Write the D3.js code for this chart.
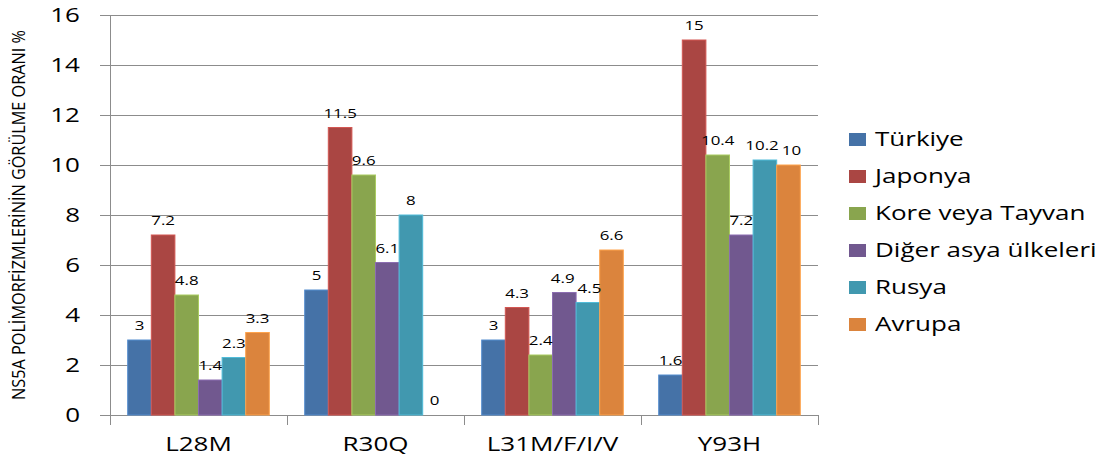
<!DOCTYPE html>
<html><head><meta charset="utf-8">
<script src="https://cdn.jsdelivr.net/npm/d3@7"></script>
<style>body{margin:0;background:#fff}svg{display:block}</style>
</head><body><svg id="c" width="1108" height="462"></svg>
<script>
const categories = ["L28M", "R30Q", "L31M/F/I/V", "Y93H"];
const seriesNames = ["Türkiye", "Japonya", "Kore veya Tayvan", "Diğer asya ülkeleri", "Rusya", "Avrupa"];
const turkiye = [3, 5, 3, 1.6];
const japonya = [7.2, 11.5, 4.3, 15];
const kore = [4.8, 9.6, 2.4, 10.4];
const diger = [1.4, 6.1, 4.9, 7.2];
const rusya = [2.3, 8, 4.5, 10.2];
const avrupa = [3.3, 0, 6.6, 10];
const yTicks = [0, 2, 4, 6, 8, 10, 12, 14, 16];
const colors = ["#4572A7", "#AA4643", "#89A54E", "#71588F", "#4198AF", "#DB843D"];
const series = [turkiye, japonya, kore, diger, rusya, avrupa];

const SX = 1.3;
function stretch(sel) {
  sel.each(function() {
    const t = d3.select(this);
    const x = +t.attr("x") || 0, y = +t.attr("y") || 0;
    t.attr("x", 0).attr("y", 0).attr("transform", `translate(${x},${y}) scale(${SX},1)`)
      .attr("data-x", x).attr("data-y", y);
  });
}

const svg = d3.select("#c");
const font = "'Open Sans', sans-serif";
const x0 = d3.scaleBand().domain(categories).range([110, 818]).padding(0);
const x1 = d3.scaleBand().domain(d3.range(series.length)).range([0, x0.bandwidth()]).paddingInner(0).paddingOuter(0.75);
const y = d3.scaleLinear().domain([0, 16]).range([415, 15]);

// gridlines
svg.append("g").selectAll("line").data(yTicks.filter(d => d > 0)).join("line")
  .attr("x1", 100).attr("x2", 818).attr("y1", d => y(d)).attr("y2", d => y(d))
  .attr("stroke", "#8c8c8c").attr("stroke-width", 1).attr("shape-rendering", "crispEdges");

// y axis
const yAxis = svg.append("g").attr("transform", "translate(110,0)")
  .call(d3.axisLeft(y).tickValues(yTicks).tickSize(10).tickPadding(20).tickFormat(d3.format("d")));
yAxis.select(".domain").attr("stroke", "#8c8c8c");
yAxis.selectAll("line").attr("stroke", "#8c8c8c");
yAxis.selectAll("text").attr("font-family", font).attr("font-size", 20).attr("fill", "#000").call(stretch);

// x axis
const xAxis = svg.append("g").attr("transform", "translate(0,415)")
  .call(d3.axisBottom(x0).tickSize(0).tickPadding(22));
xAxis.select(".domain").attr("stroke", "#8c8c8c");
xAxis.selectAll("text").attr("font-family", font).attr("font-size", 20).attr("fill", "#000").call(stretch);
svg.append("g").selectAll("line").data(d3.range(categories.length + 1)).join("line")
  .attr("x1", i => 110 + i * x0.bandwidth()).attr("x2", i => 110 + i * x0.bandwidth())
  .attr("y1", 415).attr("y2", 425).attr("stroke", "#8c8c8c").attr("shape-rendering", "crispEdges");

// bars
const groups = svg.append("g").selectAll("g").data(categories).join("g")
  .attr("transform", c => `translate(${x0(c)},0)`);
groups.selectAll("rect").data((c, ci) => series.map((s, si) => ({si, v: s[ci]}))).join("rect")
  .attr("x", d => x1(d.si)).attr("width", x1.bandwidth())
  .attr("y", d => y(d.v)).attr("height", d => y(0) - y(d.v))
  .attr("fill", d => colors[d.si])
  .attr("stroke", d => d3.color(colors[d.si]).brighter(0.6)).attr("stroke-width", 1);
groups.each(function() {
  const g = d3.select(this);
  const labels = g.selectAll("text.lbl").data((c => series.map((s, si) => ({si, v: s[categories.indexOf(c)]})))(g.datum()))
    .join("text").attr("class", "lbl")
    .attr("x", d => x1(d.si) + x1.bandwidth() / 2).attr("y", d => y(d.v) - 10)
    .attr("text-anchor", "middle").attr("font-family", font).attr("font-size", 13).attr("fill", "#000")
    .text(d => d.v).call(stretch);
  // simple collision avoidance between neighbouring labels
  const nodes = labels.nodes();
  const info = nodes.map(n => {
    const w = n.getBBox().width * SX;
    return {n, cx: +n.getAttribute("data-x"), cy: +n.getAttribute("data-y"), w};
  });
  for (let i = 1; i < info.length; i++) {
    const a = info[i - 1], b = info[i];
    if (Math.abs(a.cy - b.cy) < 14) {
      const overlap = (a.cx + a.w / 2 + 3) - (b.cx - b.w / 2);
      if (overlap > 0) { a.cx -= overlap / 2; b.cx += overlap / 2; }
    }
  }
  info.forEach(o => d3.select(o.n).attr("transform", `translate(${o.cx},${o.cy}) scale(${SX},1)`));
});

// y title
svg.append("text").attr("transform", `translate(25,215) scale(${SX},1) rotate(-90)`)
  .attr("text-anchor", "middle").attr("font-family", font)
  .attr("font-size", 14).attr("textLength", 370).attr("lengthAdjust", "spacingAndGlyphs")
  .attr("fill", "#000").text("NS5A POLİMORFİZMLERİNİN GÖRÜLME ORANI %");

// legend
const lg = svg.append("g").selectAll("g").data(seriesNames).join("g")
  .attr("transform", (d, i) => `translate(849,${139 + i * 37})`);
lg.append("rect").attr("x", 0).attr("y", -6).attr("width", 17).attr("height", 13).attr("fill", (d, i) => colors[i]);
lg.append("text").attr("x", 26).attr("y", 0).attr("dy", "0.35em").attr("font-family", font)
  .attr("font-size", 20).attr("fill", "#000").text(d => d).call(stretch);
</script></body></html>
